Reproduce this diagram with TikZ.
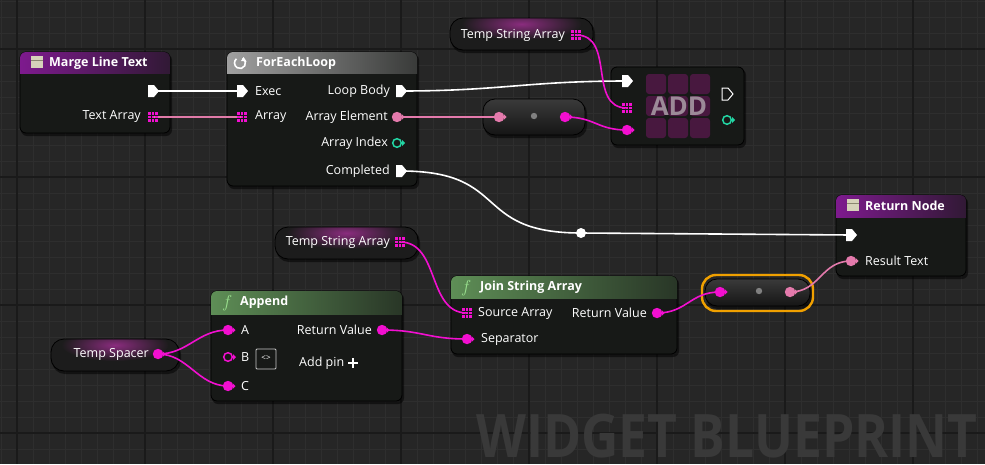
\documentclass[tikz,border=0pt]{standalone}
\usepackage{fontspec}
\setmainfont{Open Sans}
\usetikzlibrary{calc}
\definecolor{bg}{HTML}{262626}
\definecolor{gminor}{HTML}{2E2E2E}
\definecolor{gmajor}{HTML}{1A1A1A}
\definecolor{body}{HTML}{171917}
\definecolor{mag}{HTML}{F20FD0}
\definecolor{pinkt}{HTML}{E47AAC}
\definecolor{teal}{HTML}{22D6A4}
\definecolor{hpurple}{HTML}{7E1A8E}
\definecolor{hgray}{HTML}{A0A0A0}
\definecolor{hgreen}{HTML}{5E8E56}
\definecolor{orng}{HTML}{F0A000}
\definecolor{pillbg}{HTML}{1C1C1C}
\definecolor{pillglow}{HTML}{8A2C7E}
\definecolor{rtop}{HTML}{3A3A3A}
\definecolor{rbot}{HTML}{151515}
\definecolor{addsq}{HTML}{48183F}
\definecolor{addtx}{HTML}{9C8A98}
\definecolor{icon}{HTML}{D6D2BA}
\definecolor{iconl}{HTML}{8A8670}
\definecolor{fgreen}{HTML}{9AE08E}
\definecolor{arrw}{HTML}{E07AA8}
\definecolor{boxl}{HTML}{C8C8C8}
\definecolor{wmark}{HTML}{393939}
\tikzset{
 lbl/.style={text=white,font=\fontsize{12.5}{14}\selectfont,inner sep=0pt},
 hdr/.style={text=white,font=\bfseries\fontsize{12.5}{14}\selectfont,inner sep=0pt,anchor=west},
 fic/.style={hdr,text=fgreen,font=\itshape\fontsize{17}{18}\selectfont},
 wire/.style={line width=1.6pt},
 execw/.style={wire,white},
 magw/.style={wire,mag},
 pinkw/.style={wire,pinkt},
}
\newcommand\bpbody[5]{% x1 y1 x2 y2 name
 \fill[black,opacity=.5,rounded corners=6] (#1+1,#2+2) rectangle (#3+2,#4+3);
 \fill[body,rounded corners=6] (#1,#2) rectangle (#3,#4);
 \draw[black,rounded corners=6,line width=.8pt] (#1,#2) rectangle (#3,#4);
 \coordinate (#5) at (#1,#2);}
\newcommand\bphead[5]{% x1 y1 x2 yh color
 \begin{scope}
 \clip[rounded corners=6] (#1,#2) rectangle (#3,#4+20);
 \shade[left color=#5,right color=#5!25!body] (#1,#2) rectangle (#3,#4);
 \end{scope}}
\newcommand\pexec[2]{\fill[white] ($(#1)+(-5,-6)$) -- ++(6,0) -- ++(5,6) -- ++(-5,6) -- ++(-6,0) -- cycle;}
\newcommand\pexeco[2]{\draw[white,line width=1pt] ($(#1)+(-5,-6)$) -- ++(6,0) -- ++(5,6) -- ++(-5,6) -- ++(-6,0) -- cycle;}
\newcommand\pdata[2]{\fill[#2] (#1) circle (5.2); \fill[#2] ($(#1)+(4.5,-3)$) -- ++(3,3) -- ++(-3,3) -- cycle;}
\newcommand\pdatao[2]{\draw[#2,line width=1.5pt] (#1) circle (4.3); \fill[#2] ($(#1)+(5,-3)$) -- ++(3,3) -- ++(-3,3) -- cycle;}
\newcommand\parr[2]{\foreach \i in {0,1,2}{\foreach \j in {0,1,2}{\fill[#2] ($(#1)+(-5+\i*3.6,-5+\j*3.6)$) rectangle ++(2.8,2.8);}}}
\begin{document}
\begin{tikzpicture}[x=1pt,y=-1pt]
\useasboundingbox (0,0) rectangle (985,464);
\clip (0,0) rectangle (985,464);
\fill[bg] (0,0) rectangle (985,464);
\foreach \x in {1,17,...,985} \draw[gminor,line width=.8pt] (\x,0) -- (\x,464);
\foreach \y in {1,17,...,464} \draw[gminor,line width=.8pt] (0,\y) -- (985,\y);
\foreach \x in {17,145,...,985} \draw[gmajor,line width=1.2pt] (\x,0) -- (\x,464);
\foreach \y in {49,177,...,464} \draw[gmajor,line width=1.2pt] (0,\y) -- (985,\y);
% watermark
\node[anchor=north west,inner sep=0pt,text=wmark,font=\bfseries\fontsize{60}{62}\selectfont,xscale=.86] (wm) at (476,414) {WIDGET BLUEPRINT};
% pin coordinates
\coordinate (mExec) at (153,91); \coordinate (mArr) at (153,117);
\coordinate (fExec) at (242,91); \coordinate (fArr) at (242,117);
\coordinate (fBody) at (401,91); \coordinate (fElem) at (397,117);
\coordinate (fIdx) at (397,143); \coordinate (fDone) at (401,171);
\coordinate (tsa1) at (576,35);
\coordinate (r1a) at (499,117); \coordinate (r1d) at (534,116); \coordinate (r1b) at (565,117);
\coordinate (aExec) at (627,81); \coordinate (aArr) at (627,108); \coordinate (aElem) at (627,130);
\coordinate (aOut) at (727,94); \coordinate (aIdx) at (727,120);
\coordinate (knot) at (581,233);
\coordinate (rExec) at (851,235); \coordinate (rRes) at (851,261);
\coordinate (tsa2) at (400,242);
\coordinate (jSrc) at (467,313); \coordinate (jSep) at (467,339); \coordinate (jRet) at (657,313);
\coordinate (r2a) at (720,292); \coordinate (r2d) at (759,291); \coordinate (r2b) at (790,292);
\coordinate (apA) at (228,330); \coordinate (apB) at (228,357); \coordinate (apC) at (228,386);
\coordinate (apRet) at (382,330); \coordinate (tsp) at (158,354);
% nodes
\bpbody{20}{52}{170}{133}{margeN}\bphead{20}{52}{170}{73}{hpurple}
\bpbody{227}{52}{417}{186}{loopN}\bphead{227}{52}{417}{73}{hgray}
\bpbody{611}{67}{744}{145}{addN}
\bpbody{836}{195}{966}{276}{retN}\bphead{836}{195}{966}{217}{hpurple}
\bpbody{451}{276}{677}{354}{joinN}\bphead{451}{276}{677}{298}{hgreen}
\bpbody{211}{291}{402}{401}{appN}\bphead{211}{291}{402}{314}{hgreen}
% pills
\foreach \a/\b/\c/\d in {450/18/593/50, 275/227/418/259, 51/339/179/371}{
 \fill[black,opacity=.5,rounded corners=13] (\a+1,\b+2) rectangle (\c+2,\d+3);
 \begin{scope}\clip[rounded corners=13] (\a,\b) rectangle (\c,\d);
 \fill[pillbg] (\a,\b) rectangle (\c,\d);
 \shade[inner color=pillglow,outer color=pillbg] ($(\a,\b)!.5!(\c,\b)+(0,6)$) ellipse ({(\c-\a)*0.42} and 16);
 \end{scope}
 \draw[black,rounded corners=13,line width=.8pt] (\a,\b) rectangle (\c,\d);}
\foreach \a/\b/\c/\d in {483/99/585/135, 705/279/810/306}{
 \fill[black,opacity=.5,rounded corners=12] (\a+1,\b+2) rectangle (\c+2,\d+3);
 \shade[rounded corners=12,top color=rtop,bottom color=rbot] (\a,\b) rectangle (\c,\d);
 \draw[black,rounded corners=12,line width=.8pt] (\a,\b) rectangle (\c,\d);}
\draw[orng,line width=2.4pt,rounded corners=14] (702,275) rectangle (813,311);
% ADD decoration
\foreach \i in {0,1,2}{\foreach \j in {0,1,2}{\fill[addsq,rounded corners=3] (646+\i*22,74+\j*22) rectangle ++(20,20);}}
\node[inner sep=0pt,text=addtx,font=\bfseries\fontsize{26}{28}\selectfont] (addT) at (679,106) {ADD};
% headers
\fill[icon] (31,56) rectangle (43,68); \draw[iconl,line width=.8pt] (31,60) -- (43,60);
\node[hdr] (t1) at (49,63) {Marge Line Text};
\draw[white,line width=1.6pt] (240,63) ++(-60:5.5) arc (-60:230:5.5);
\fill[white] (243.5,57) -- (246.5,61.5) -- (241,61) -- cycle;
\node[hdr] (t2) at (256,63) {ForEachLoop};
\fill[icon] (847,199) rectangle (859,211); \draw[iconl,line width=.8pt] (847,203) -- (859,203);
\node[hdr] (t3) at (865,206) {Return Node};
\node[fic] (f1) at (461,288) {$f$};
\node[hdr] (t4) at (480,287) {Join String Array};
\node[fic] (f2) at (222,303) {$f$};
\node[hdr] (t5) at (240,302) {Append};
% wires
\draw[execw] (mExec) -- (fExec);
\draw[wire,arrw] (mArr) -- (fArr);
\draw[execw] (fBody) .. controls +(100,0) and +(-100,0) .. (aExec);
\draw[pinkw] (fElem) -- (r1a);
\draw[magw] (r1b) .. controls +(30,0) and +(-30,0) .. (aElem);
\draw[magw] (tsa1) .. controls +(40,0) and +(-40,0) .. (aArr);
\draw[execw] (fDone) .. controls +(110,0) and +(-110,0) .. (knot);
\draw[execw] (knot) -- (rExec);
\fill[white] (knot) circle (5);
\draw[magw] (tsa2) .. controls +(40,0) and +(-40,0) .. (jSrc);
\draw[magw] (apRet) .. controls +(40,0) and +(-40,0) .. (jSep);
\draw[magw] (tsp) .. controls +(30,0) and +(-30,0) .. (apA);
\draw[magw] (tsp) .. controls +(30,0) and +(-30,0) .. (apC);
\draw[magw] (jRet) .. controls +(30,0) and +(-30,0) .. (r2a);
\draw[pinkw] (r2b) .. controls +(30,0) and +(-30,0) .. (rRes);
% pins
\pexec{mExec}{} \parr{mArr}{mag}
\pexec{fExec}{} \parr{fArr}{mag}
\pexec{fBody}{} \pdata{fElem}{pinkt} \pdatao{fIdx}{teal} \pexec{fDone}{}
\parr{tsa1}{mag}
\pdata{r1a}{pinkt} \fill[gray] (r1d) circle (3.2); \pdata{r1b}{mag}
\pexec{aExec}{} \parr{aArr}{mag} \pdata{aElem}{mag} \pexeco{aOut}{} \pdatao{aIdx}{teal}
\pexec{rExec}{} \pdata{rRes}{pinkt}
\parr{tsa2}{mag}
\parr{jSrc}{mag} \pdata{jSep}{mag} \pdata{jRet}{mag}
\pdata{r2a}{mag} \fill[gray] (r2d) circle (3.2); \pdata{r2b}{pinkt}
\pdata{apA}{mag} \pdatao{apB}{mag} \pdata{apC}{mag} \pdata{apRet}{mag}
\pdata{tsp}{mag}
% labels
\node[lbl,anchor=east] at (141,117) {Text Array};
\node[lbl,anchor=west] at (255,91) {Exec};
\node[lbl,anchor=west] at (255,117) {Array};
\node[lbl,anchor=east] at (390,91) {Loop Body};
\node[lbl,anchor=east] at (388,117) {Array Element};
\node[lbl,anchor=east] at (388,143) {Array Index};
\node[lbl,anchor=east] at (390,171) {Completed};
\node[lbl,anchor=east] at (565,35) {Temp String Array};
\node[lbl,anchor=west] at (865,261) {Result Text};
\node[lbl,anchor=east] at (390,242) {Temp String Array};
\node[lbl,anchor=west] at (478,313) {Source Array};
\node[lbl,anchor=west] at (481,339) {Separator};
\node[lbl,anchor=east] at (647,313) {Return Value};
\node[lbl,anchor=east] at (372,330) {Return Value};
\node[lbl,anchor=east] at (149,354) {Temp Spacer};
\node[lbl,anchor=west] at (241,330) {A};
\node[lbl,anchor=west] at (241,357) {B};
\node[lbl,anchor=west] at (241,386) {C};
\draw[boxl,line width=.8pt,rounded corners=1] (256,349) rectangle (276,369);
\node[lbl,font=\fontsize{8}{9}\selectfont] at (266,358.5) {<>};
\node[lbl,anchor=west] at (299,363) {Add pin};
\draw[white,line width=2.2pt] (348,363) -- (358,363) (353,358) -- (353,368);
\end{tikzpicture}
\end{document}
